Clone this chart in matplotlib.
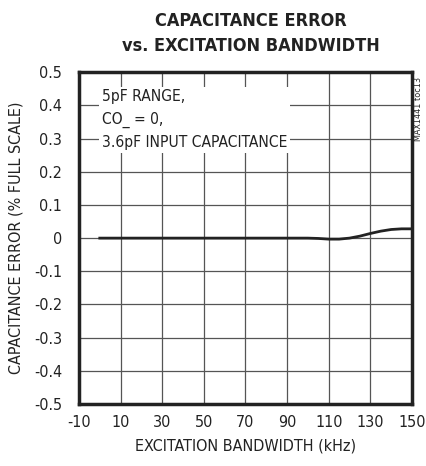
import numpy as np
import matplotlib.pyplot as plt

plt.rcParams['font.family'] = ['DejaVu Sans']
plt.rcParams['font.stretch'] = 'condensed'
plt.rcParams['axes.unicode_minus'] = False

# curve
bandwidth = [0, 10, 20, 30, 40, 50, 60, 70, 80, 90, 100, 105, 110, 115, 120, 125, 130, 135, 140, 145, 150]
cap_error = [0.0, 0.0, 0.0, 0.0, 0.0, 0.0, 0.0, 0.0, 0.0, 0.0, 0.0, -0.001, -0.003, -0.003, 0.0, 0.006, 0.014, 0.021, 0.026, 0.028, 0.028]

xticks = [-10, 10, 30, 50, 70, 90, 110, 130, 150]
yticks = np.round(np.arange(-0.5, 0.51, 0.1), 1)
ytick_labels = ['-0.5', '-0.4', '-0.3', '-0.2', '-0.1', '0', '0.1', '0.2', '0.3', '0.4', '0.5']

fig = plt.figure(figsize=(4.26, 4.66), dpi=100)
ax = fig.add_axes([0.1854, 0.133, 0.7816, 0.712])

ax.plot(bandwidth, cap_error, color='#222222', linewidth=2.0, zorder=3)

ax.set_xlim(-10, 150)
ax.set_ylim(-0.5, 0.5)
ax.set_xticks(xticks)
ax.set_yticks(yticks)
ax.set_yticklabels(ytick_labels)
ax.tick_params(axis='y', length=0, labelsize=11.5, pad=12, colors='#222222')
ax.tick_params(axis='x', length=0, labelsize=11.5, pad=8, colors='#222222')
ax.grid(True, color='#555555', linewidth=0.9)
for s in ax.spines.values():
    s.set_linewidth(2.5)
    s.set_color('#222222')

ax.set_xlabel('EXCITATION BANDWIDTH (kHz)', fontsize=11.5, color='#222222', labelpad=6)
ax.set_ylabel('CAPACITANCE ERROR (% FULL SCALE)', fontsize=11.5, color='#222222', labelpad=8)

ax.text(1, 0.448, '5pF RANGE,\nCO_ = 0,\n3.6pF INPUT CAPACITANCE', fontsize=11.2,
        va='top', ha='left', color='#222222', linespacing=1.6,
        bbox=dict(facecolor='white', edgecolor='none', pad=2), zorder=4)

fig.text(0.59, 0.928, 'CAPACITANCE ERROR\nvs. EXCITATION BANDWIDTH', ha='center', va='center',
         fontsize=13, fontweight='heavy', color='#222222', linespacing=1.45)
fig.text(0.983, 0.835, 'MAX1441 toc13', rotation=90, ha='center', va='top', fontsize=6.5, color='#222222')

fig.savefig('out.png', dpi=100)
